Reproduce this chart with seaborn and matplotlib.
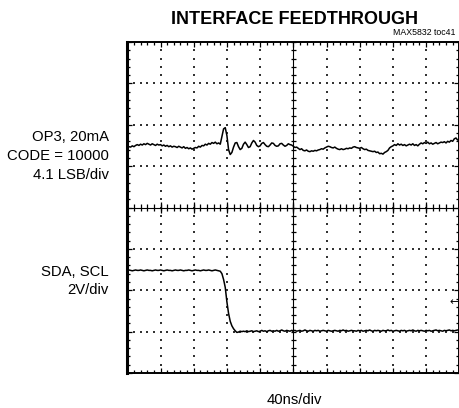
import numpy as np
import pandas as pd
import matplotlib
matplotlib.use("Agg")
import matplotlib.pyplot as plt
import seaborn as sns

ns_per_div = 40
step_ns = 2

# OP3 output, 20mA, CODE = 10000 (4.1 LSB/div)
op3_div = [
    1.45, 1.47, 1.46, 1.49, 1.47, 1.50, 1.52, 1.50, 1.53, 1.51,
    1.54, 1.52, 1.55, 1.53, 1.51, 1.54, 1.52, 1.50, 1.53, 1.51,
    1.52, 1.49, 1.51, 1.48, 1.50, 1.47, 1.49, 1.46, 1.48, 1.47,
    1.45, 1.48, 1.46, 1.44, 1.47, 1.43, 1.45, 1.42, 1.44, 1.41,
    1.43, 1.45, 1.44, 1.48, 1.46, 1.50, 1.49, 1.53, 1.51, 1.55,
    1.53, 1.57, 1.55, 1.58, 1.54, 1.56, 1.53, 1.72, 1.90, 1.93,
    1.74, 1.40, 1.28, 1.33, 1.46, 1.56, 1.57, 1.47, 1.40, 1.43,
    1.53, 1.58, 1.52, 1.45, 1.47, 1.56, 1.62, 1.58, 1.50, 1.47,
    1.49, 1.55, 1.57, 1.52, 1.48, 1.47, 1.51, 1.56, 1.55, 1.50,
    1.48, 1.49, 1.54, 1.55, 1.51, 1.48, 1.50, 1.54, 1.52, 1.51,
    1.48, 1.45, 1.46, 1.43, 1.40, 1.42, 1.38, 1.37, 1.39, 1.36,
    1.35, 1.37, 1.36, 1.38, 1.37, 1.39, 1.40, 1.42, 1.41, 1.44,
    1.46, 1.48, 1.47, 1.45, 1.44, 1.46, 1.43, 1.41, 1.40, 1.42,
    1.40, 1.41, 1.43, 1.42, 1.44, 1.43, 1.46, 1.47, 1.45, 1.44,
    1.43, 1.45, 1.42, 1.40, 1.41, 1.38, 1.37, 1.36, 1.35, 1.36,
    1.33, 1.34, 1.30, 1.31, 1.29, 1.33, 1.35, 1.38, 1.44, 1.47,
    1.49, 1.52, 1.50, 1.54, 1.51, 1.53, 1.50, 1.52, 1.49, 1.51,
    1.53, 1.51, 1.54, 1.50, 1.52, 1.49, 1.53, 1.56, 1.54, 1.57,
    1.55, 1.58, 1.54, 1.56, 1.53, 1.55, 1.57, 1.54, 1.56, 1.58,
    1.57, 1.59, 1.56, 1.60, 1.58, 1.62, 1.60, 1.66, 1.68, 1.63, 1.64,
]

# SDA, SCL (2V/div)
sda_div = [
    -1.52, -1.51, -1.52, -1.53, -1.52, -1.51, -1.52, -1.52, -1.51, -1.52,
    -1.53, -1.52, -1.51, -1.52, -1.52, -1.53, -1.52, -1.51, -1.52, -1.52,
    -1.51, -1.52, -1.53, -1.52, -1.51, -1.52, -1.52, -1.53, -1.52, -1.51,
    -1.52, -1.52, -1.51, -1.52, -1.53, -1.52, -1.52, -1.51, -1.52, -1.53,
    -1.52, -1.51, -1.52, -1.52, -1.53, -1.52, -1.51, -1.52, -1.52, -1.51,
    -1.52, -1.53, -1.52, -1.51, -1.52, -1.53, -1.54, -1.60, -1.74, -1.93,
    -2.28, -2.56, -2.75, -2.86, -2.93, -2.98, -3.02, -3.01, -2.99, -3.00,
    -2.99, -3.00, -2.98, -3.00, -2.99, -2.98, -3.00, -2.99, -2.98, -3.00,
    -2.99, -2.97, -2.99, -2.98, -3.00, -2.98, -2.97, -2.99, -2.98, -2.99,
    -2.97, -2.99, -2.98, -2.96, -2.98, -2.99, -2.97, -2.98, -2.99, -2.97,
    -2.98, -2.97, -2.99, -2.98, -2.97, -2.99, -2.98, -2.96, -2.98, -2.99,
    -2.97, -2.98, -2.99, -2.97, -2.98, -2.97, -2.99, -2.98, -2.97, -2.98,
    -2.99, -2.97, -2.98, -2.99, -2.98, -2.97, -2.98, -2.99, -2.97, -2.98,
    -2.96, -2.98, -2.97, -2.99, -2.98, -2.97, -2.98, -2.98, -2.99, -2.97,
    -2.98, -2.97, -2.99, -2.98, -2.97, -2.98, -2.96, -2.98, -2.99, -2.97,
    -2.98, -2.97, -2.98, -2.99, -2.97, -2.98, -2.98, -2.96, -2.98, -2.97,
    -2.99, -2.98, -2.97, -2.98, -2.99, -2.97, -2.98, -2.97, -2.99, -2.98,
    -2.97, -2.98, -2.96, -2.98, -2.99, -2.97, -2.98, -2.97, -2.98, -2.99,
    -2.97, -2.98, -2.97, -2.99, -2.98, -2.97, -2.96, -2.98, -2.97, -2.98,
    -2.99, -2.97, -2.98, -2.97, -2.96, -2.98, -2.97, -2.98, -2.97, -2.96, -2.97,
]

left_labels_top = ["OP3, 20mA", "CODE = 10000", "4.1 LSB/div"]
left_labels_bottom = ["SDA, SCL", "2V/div"]

sns.set_style("ticks")
plt.rcParams['font.family'] = ['Liberation Sans', 'DejaVu Sans']
plt.rcParams['text.color'] = 'black'

df = pd.DataFrame({
    "t": np.arange(len(op3_div)) * step_ns,
    "op3": op3_div,
    "sda": sda_div,
})

fig = plt.figure(figsize=(4.6, 4.08), dpi=100)
ax = fig.add_axes([127.3 / 460, 35 / 408, 332 / 460, 331 / 408])

xmax = 10 * ns_per_div
ax.set_xlim(0, xmax)
ax.set_ylim(-4, 4)

# dotted graticule
minor_x = np.arange(0, xmax + 0.1, ns_per_div / 5)
minor_y = np.arange(-4, 4.01, 0.2)
for gx in range(1, 10):
    if gx == 5:
        continue
    ax.scatter(np.full(len(minor_y), gx * ns_per_div), minor_y, s=0.8, marker='s',
               color='#333333', linewidths=0, zorder=1)
for gy in range(-3, 4):
    if gy == 0:
        continue
    ax.scatter(minor_x, np.full(len(minor_x), gy), s=0.8, marker='s',
               color='#333333', linewidths=0, zorder=1)

# centre crosshair with small ticks
ax.axhline(0, color='black', lw=0.8, zorder=2)
ax.axvline(5 * ns_per_div, color='black', lw=0.8, zorder=2)
ax.vlines(minor_x, -0.08, 0.08, color='black', lw=0.9, zorder=2)
ax.vlines(np.arange(0, xmax + 1, ns_per_div), -0.14, 0.14, color='black', lw=0.9, zorder=2)
ax.hlines(minor_y, 5 * ns_per_div - 3.2, 5 * ns_per_div + 3.2, color='black', lw=0.9, zorder=2)

# traces
sns.lineplot(data=df, x="t", y="op3", ax=ax, color='black', lw=1.1, estimator=None, zorder=3)
sns.lineplot(data=df, x="t", y="sda", ax=ax, color='black', lw=1.1, estimator=None, zorder=3)

# channel ground marker
ax.text(xmax - 0.3, -2.28, "←", ha='right', va='center', fontsize=8,
        family=['DejaVu Sans'], color='black', zorder=4)

# frame ticks
ax.set_xticks(np.arange(0, xmax + 1, ns_per_div))
ax.set_xticks(minor_x, minor=True)
ax.set_yticks(np.arange(-4, 5, 1))
ax.set_yticks(minor_y, minor=True)
ax.tick_params(which='both', direction='in', top=True, right=True,
               labelbottom=False, labelleft=False, color='black')
ax.tick_params(which='major', length=3.5, width=0.9)
ax.tick_params(which='minor', length=2.2, width=0.9)
ax.set_xlabel("")
ax.set_ylabel("")
for side in ax.spines:
    ax.spines[side].set_linewidth(1.4)
    ax.spines[side].set_color('black')
ax.spines['left'].set_linewidth(2.2)

# texts
fig.text(295 / 460, 1 - 24 / 408, "INTERFACE FEEDTHROUGH", ha='center', va='baseline',
         fontsize=13, fontweight='bold')
fig.text(456 / 460, 1 - 35 / 408, "MAX5832 toc41", ha='right', va='baseline', fontsize=6.3)
for lbl, yb in zip(left_labels_top, [141, 160, 179]):
    fig.text(109 / 460, 1 - yb / 408, lbl, ha='right', va='baseline', fontsize=10.7)
for lbl, yb in zip(left_labels_bottom, [275.5, 294.5]):
    fig.text(109 / 460, 1 - yb / 408, lbl, ha='right', va='baseline', fontsize=10.7)
fig.text(294 / 460, 1 - 404 / 408, "40ns/div", ha='center', va='baseline', fontsize=10.7)

fig.savefig("out.png", dpi=100)
plt.close(fig)
